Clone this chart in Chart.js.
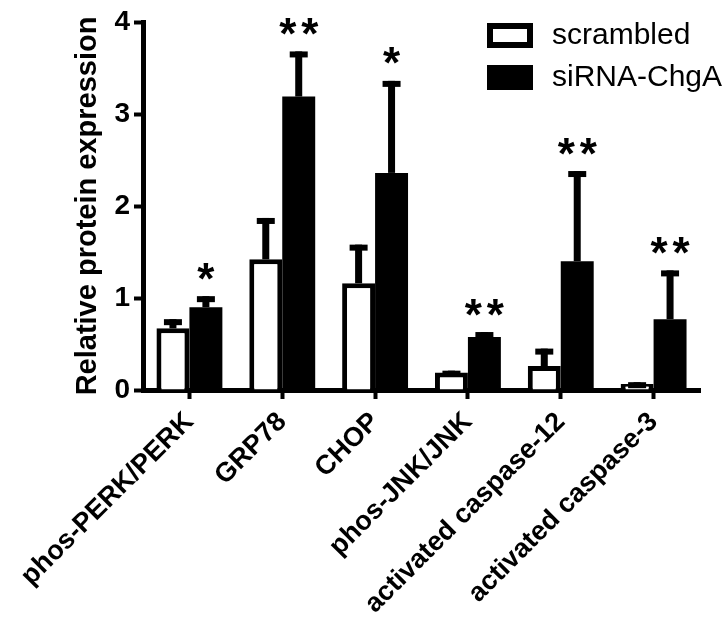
<!DOCTYPE html>
<html><head><meta charset="utf-8">
<script src="https://cdn.jsdelivr.net/npm/chart.js@4.4.1/dist/chart.umd.min.js"></script>
<style>html,body{margin:0;padding:0;background:#fff;} canvas{display:block;}</style>
</head><body>
<canvas id="c" width="726" height="626"></canvas>
<script>
const categories = ['phos-PERK/PERK','GRP78','CHOP','phos-JNK/JNK','activated caspase-12','activated caspase-3'];
const seriesNames = ['scrambled','siRNA-ChgA'];
const scrambledMean = [0.67, 1.42, 1.16, 0.19, 0.26, 0.065];
const scrambledErr  = [0.10, 0.45, 0.42, 0.02, 0.19, 0.02];
const sirnaMean     = [0.90, 3.19, 2.36, 0.575, 1.40, 0.77];
const sirnaErr      = [0.12, 0.49, 1.00, 0.055, 0.98, 0.53];
const significance  = ['*', '**', '*', '**', '**', '**'];
const yTicks = [0, 1, 2, 3, 4];
const yTitle = 'Relative protein expression';

const FONT = "'Liberation Sans', Arial, sans-serif";

const errorBarPlugin = {
  id: 'errorBars',
  afterDatasetsDraw(chart) {
    const ctx = chart.ctx, y = chart.scales.y;
    ctx.save();
    ctx.fillStyle = '#000';
    chart.data.datasets.forEach((ds, di) => {
      const meta = chart.getDatasetMeta(di);
      meta.data.forEach((bar, i) => {
        const top = y.getPixelForValue(ds.data[i] + ds.errors[i]);
        const base = bar.y;
        if (base - top > 0) ctx.fillRect(bar.x - 3.5, top, 7, base - top);
        const capBottom = Math.min(top + 6, base + 5);
        ctx.fillRect(bar.x - 9, top, 18, capBottom - top);
      });
    });
    const ds = chart.data.datasets[1];
    const meta = chart.getDatasetMeta(1);
    ctx.font = 'bold 44px ' + FONT;
    ctx.textAlign = 'center';
    ctx.textBaseline = 'alphabetic';
    const m = ctx.measureText('*');
    const asc = m.actualBoundingBoxAscent, desc = m.actualBoundingBoxDescent;
    meta.data.forEach((bar, i) => {
      const s = significance[i];
      if (!s) return;
      const top = y.getPixelForValue(ds.data[i] + ds.errors[i]);
      const cy = top - 25;
      const baseY = cy + (asc - desc) / 2;
      const n = s.length;
      for (let k = 0; k < n; k++) {
        const dx = (k - (n - 1) / 2) * 22;
        ctx.fillText('*', bar.x + dx, baseY);
      }
    });
    ctx.restore();
  }
};

const legendPlugin = {
  id: 'customLegend',
  afterDraw(chart) {
    const ctx = chart.ctx, ca = chart.chartArea;
    ctx.save();
    const x0 = ca.right - 213;
    const rows = [23, 65];
    chart.data.datasets.forEach((ds, i) => {
      const yy = rows[i];
      ctx.fillStyle = '#000';
      ctx.fillRect(x0, yy, 46, 25);
      if (ds.backgroundColor === '#ffffff') {
        ctx.fillStyle = '#fff';
        ctx.fillRect(x0 + 6, yy + 6, 34, 13);
      }
      ctx.fillStyle = '#000';
      ctx.font = '30px ' + FONT;
      ctx.textAlign = 'left';
      ctx.textBaseline = 'middle';
      ctx.fillText(ds.label, x0 + 65, yy + 13);
    });
    ctx.restore();
  }
};

new Chart(document.getElementById('c'), {
  type: 'bar',
  data: {
    labels: categories,
    datasets: [
      { label: seriesNames[0], data: scrambledMean, errors: scrambledErr,
        backgroundColor: '#ffffff', borderColor: '#000000', borderWidth: 5,
        categoryPercentage: 0.71, barPercentage: 1.0 },
      { label: seriesNames[1], data: sirnaMean, errors: sirnaErr,
        backgroundColor: '#000000', borderColor: '#000000', borderWidth: 0,
        categoryPercentage: 0.71, barPercentage: 1.0 }
    ]
  },
  options: {
    responsive: false,
    animation: false,
    layout: { padding: { left: 0, top: 22, right: 26, bottom: 0 } },
    plugins: { legend: { display: false }, tooltip: { enabled: false } },
    scales: {
      x: {
        offset: true,
        grid: { display: true, offset: false, drawOnChartArea: false, drawTicks: true,
                tickLength: 9, tickWidth: 4, tickColor: '#000', color: '#000' },
        border: { display: true, width: 5, color: '#000' },
        ticks: { autoSkip: false, maxRotation: 45, minRotation: 45, padding: 9,
                 color: '#000', font: { family: FONT, size: 27, weight: 'bold', lineHeight: 1.0 } },
        afterFit(scale) { scale.height = 236; }
      },
      y: {
        min: 0, max: 4,
        afterBuildTicks(scale) { scale.ticks = yTicks.map(v => ({ value: v })); },
        grid: { display: true, drawOnChartArea: false, drawTicks: true,
                tickLength: 9, tickWidth: 4, tickColor: '#000', color: '#000' },
        border: { display: true, width: 5, color: '#000' },
        ticks: { padding: 4, color: '#000', font: { family: FONT, size: 28, weight: 'bold' } },
        title: { display: true, text: yTitle, color: '#000', padding: { top: 71, bottom: 0 },
                 font: { family: FONT, size: 29, weight: 'bold' } },
        afterFit(scale) { scale.width = 143; }
      }
    }
  },
  plugins: [errorBarPlugin, legendPlugin]
});
</script>
</body></html>
